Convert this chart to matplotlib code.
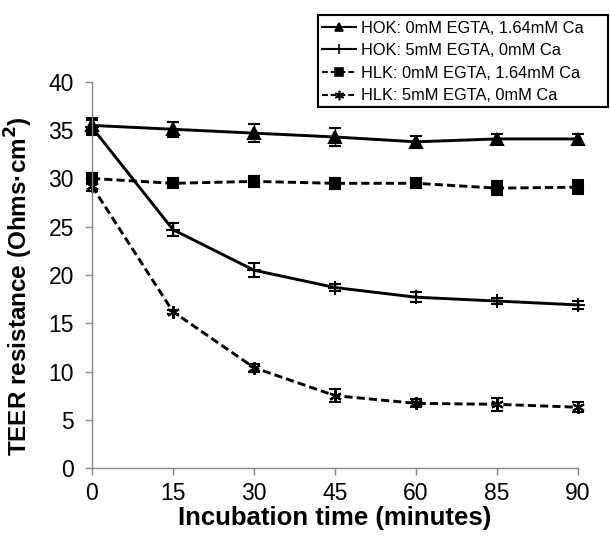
import matplotlib
matplotlib.use("Agg")
import matplotlib.pyplot as plt
from matplotlib.lines import Line2D
from matplotlib.patches import Rectangle

plt.rcParams['font.family'] = ['Liberation Sans', 'DejaVu Sans']

time_labels = ["0", "15", "30", "45", "60", "85", "90"]

hok_ctrl = [35.5, 35.1, 34.7, 34.3, 33.8, 34.1, 34.1]
hok_ctrl_err = [0.8, 0.8, 0.9, 0.9, 0.6, 0.5, 0.5]
hok_egta = [35.3, 24.7, 20.5, 18.7, 17.7, 17.3, 16.9]
hok_egta_err = [0.8, 0.7, 0.7, 0.4, 0.5, 0.3, 0.4]
hlk_ctrl = [30.0, 29.5, 29.7, 29.5, 29.5, 29.0, 29.1]
hlk_ctrl_err = [0.6, 0.4, 0.6, 0.6, 0.3, 0.7, 0.7]
hlk_egta = [29.2, 16.2, 10.4, 7.5, 6.7, 6.6, 6.3]
hlk_egta_err = [0.5, 0.2, 0.4, 0.7, 0.4, 0.7, 0.5]

labels = ["HOK: 0mM EGTA, 1.64mM Ca", "HOK: 5mM EGTA, 0mM Ca",
          "HLK: 0mM EGTA, 1.64mM Ca", "HLK: 5mM EGTA, 0mM Ca"]

W, H = 610, 539
fig = plt.figure(figsize=(W / 100, H / 100), dpi=100)
ax = fig.add_axes([0.1508, 0.1317, 0.7967, 0.7162])

x = list(range(len(time_labels)))
dash = (0, (2.8, 1.4))
series = [
    (hok_ctrl, hok_ctrl_err, '-', '^', 8),
    (hok_egta, hok_egta_err, '-', '+', 10),
    (hlk_ctrl, hlk_ctrl_err, dash, 's', 7.5),
    (hlk_egta, hlk_egta_err, dash, (6, 2, 0), 9),
]
handles = []
for (vals, err, ls, mk, ms), lab in zip(series, labels):
    ax.errorbar(x, vals, yerr=err, color='black', linestyle=ls, linewidth=2.1,
                marker=mk, markersize=ms, markeredgewidth=1.5,
                elinewidth=1, capsize=4, capthick=1, clip_on=False)
    handles.append(Line2D([], [], color='black', linestyle=ls, linewidth=1.5,
                          marker=mk, markersize=ms * 0.75, markeredgewidth=1.2))

ax.set_xlim(0, 6)
ax.set_ylim(0, 40)
ax.set_xticks(x)
ax.set_xticklabels(time_labels)
ax.set_yticks(range(0, 41, 5))
ax.tick_params(axis='both', labelsize=16.5, color='#868686', length=5, width=1,
               direction='out')
ax.tick_params(axis='x', pad=5)
ax.tick_params(axis='y', pad=8)
for s in ['top', 'right']:
    ax.spines[s].set_visible(False)
for s in ['left', 'bottom']:
    ax.spines[s].set_color('#868686')
    ax.spines[s].set_linewidth(1)

ax.set_xlabel("Incubation time (minutes)", fontsize=18.5, fontweight='bold', labelpad=1)
ax.set_ylabel(r"TEER resistance (Ohms·cm$^\mathbf{2}$)", fontsize=17.5,
              fontweight='bold')
ax.yaxis.set_label_coords(-0.118, 0.47)

# legend border box
fig.patches.append(Rectangle((318 / W, 1 - 107 / H), 290 / W, 92 / H,
                             transform=fig.transFigure, fill=False,
                             edgecolor='black', linewidth=1.5))
leg = fig.legend(handles=handles, labels=labels, loc='upper left',
                 bbox_to_anchor=(320 / W, 1 - 19 / H), fontsize=11.8, frameon=False,
                 handlelength=2.1, handletextpad=0.3, borderpad=0.1,
                 labelspacing=0.46, borderaxespad=0)

fig.savefig("out.png", dpi=100)
